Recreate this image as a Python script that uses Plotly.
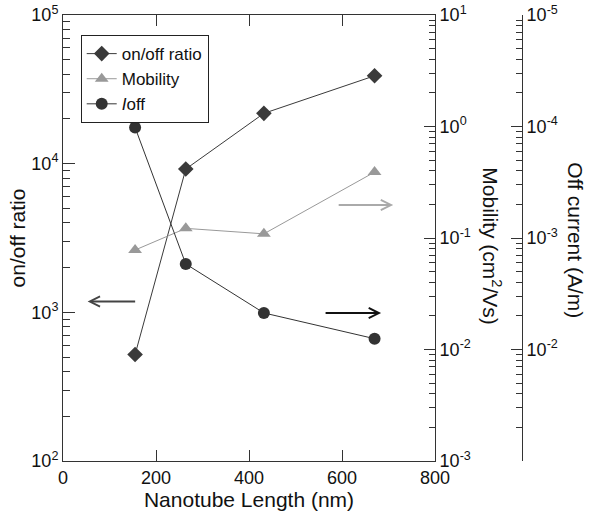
import plotly.graph_objects as go

# ---- data ----
length_nm = [155, 264, 432, 670]
on_off_ratio = [520, 9200, 21800, 39000]
mobility = [0.078, 0.122, 0.109, 0.39]
i_off = [1.02e-4, 1.71e-3, 4.7e-3, 8.0e-3]

x_ticks = [0, 200, 400, 600, 800]
ratio_ticks = [1e2, 1e3, 1e4, 1e5]
ratio_labels = ["10<sup>2</sup>", "10<sup>3</sup>", "10<sup>4</sup>", "10<sup>5</sup>"]
mob_ticks = [1e-3, 1e-2, 1e-1, 1e0, 1e1]
mob_labels = ["10<sup>-3</sup>", "10<sup>-2</sup>", "10<sup>-1</sup>", "10<sup>0</sup>", "10<sup>1</sup>"]
ioff_ticks = [1e-5, 1e-4, 1e-3, 1e-2]
ioff_labels = ["10<sup>-5</sup>", "10<sup>-4</sup>", "10<sup>-3</sup>", "10<sup>-2</sup>"]

FONT = "Liberation Sans, Arial, Helvetica, sans-serif"
AX = "#333333"


def minors(lo, hi):
    return [k * 10 ** d for d in range(lo, hi) for k in range(2, 10)]


def mirrored_minors(lo, hi):
    return [10 ** (d + 1) / k for d in range(lo, hi) for k in range(2, 10)]


fig = go.Figure()
fig.add_trace(go.Scatter(
    x=length_nm, y=on_off_ratio, name="on/off ratio", mode="lines+markers",
    line=dict(color="#3a3a3a", width=1),
    marker=dict(symbol="diamond", size=12, color="#3a3a3a"),
    yaxis="y"))
fig.add_trace(go.Scatter(
    x=length_nm, y=mobility, name="Mobility", mode="lines+markers",
    line=dict(color="#999999", width=1),
    marker=dict(symbol="triangle-up", size=12, color="#999999"),
    yaxis="y2"))
fig.add_trace(go.Scatter(
    x=length_nm, y=i_off, name="<i>I</i>off", mode="lines+markers",
    line=dict(color="#333333", width=1),
    marker=dict(symbol="circle", size=12, color="#333333"),
    yaxis="y3"))

common_axis = dict(showline=True, linecolor=AX, linewidth=1, showgrid=False,
                   zeroline=False, ticks="inside", tickcolor=AX, automargin=False,
                   ticklabeloverflow="allow",
                   tickfont=dict(size=18, color="#111"))

fig.update_layout(
    width=590, height=515,
    margin=dict(l=63, r=68, t=15, b=54),
    paper_bgcolor="white", plot_bgcolor="white",
    font=dict(family=FONT, color="#111"),
    showlegend=True,
    legend=dict(x=0.0386, y=0.955, xanchor="left", yanchor="top",
                bordercolor="#222", borderwidth=1, bgcolor="white",
                font=dict(size=17), tracegroupgap=0, itemwidth=30),
    xaxis=dict(domain=[0, 0.8105], range=[0, 800], tickvals=x_ticks,
               mirror="ticks", ticklen=11,
               title=dict(text="Nanotube Length (nm)", font=dict(size=21), standoff=5),
               **common_axis),
    yaxis=dict(type="log", range=[2, 5], tickvals=ratio_ticks, ticktext=ratio_labels,
               ticklen=12,
               minor=dict(tickmode="array", tickvals=minors(2, 5), ticks="inside",
                          ticklen=7, tickcolor=AX, showgrid=False),
               title=dict(text="on/off ratio", font=dict(size=21), standoff=0),
               **common_axis),
    yaxis2=dict(type="log", range=[-3, 1], overlaying="y", side="right", anchor="x",
                tickvals=mob_ticks, ticktext=mob_labels, ticklen=11,
                minor=dict(tickmode="array", tickvals=minors(-3, 1), ticks="inside",
                           ticklen=6, tickcolor=AX, showgrid=False),
                **common_axis),
    yaxis3=dict(type="log", range=[-1, -5], overlaying="y", side="right", anchor="free",
                position=1, tickvals=ioff_ticks, ticktext=ioff_labels, ticklen=11,
                minor=dict(tickmode="array", tickvals=mirrored_minors(-5, -1), ticks="inside",
                           ticklen=6, tickcolor=AX, showgrid=False),
                **common_axis),
)

# right-hand axis titles (rotated to read top-to-bottom)
fig.add_annotation(text="Mobility (cm<sup>2</sup>/Vs)", xref="paper", yref="paper",
                   x=0.934, y=0.482, xanchor="center", yanchor="middle",
                   textangle=90, showarrow=False, font=dict(size=21, color="#111"))
fig.add_annotation(text="Off current (A/m)", xref="paper", yref="paper",
                   x=1.117, y=0.4955, xanchor="center", yanchor="middle",
                   textangle=90, showarrow=False, font=dict(size=21, color="#111"))

# arrows pointing to the axes each series belongs to
arrow_specs = [
    # (x head, y head (log10), yref, tail offset px, color)
    (53, 3.073, "y", 49, "#444444"),
    (710, -0.704, "y2", -56, "#aaaaaa"),
    (684, -2.327, "y3", -57, "#111111"),
]
for xh, yh, yr, off, col in arrow_specs:
    fig.add_annotation(x=xh, y=yh, xref="x", yref=yr, ax=off, ay=0,
                       showarrow=True, arrowhead=5, arrowsize=1, arrowwidth=2,
                       arrowcolor=col, text="")

# remove the default page margin so the figure sits at the window's top-left corner
fig.write_html("out.html", config={"displayModeBar": False},
               post_script="document.body.style.margin='0';")
